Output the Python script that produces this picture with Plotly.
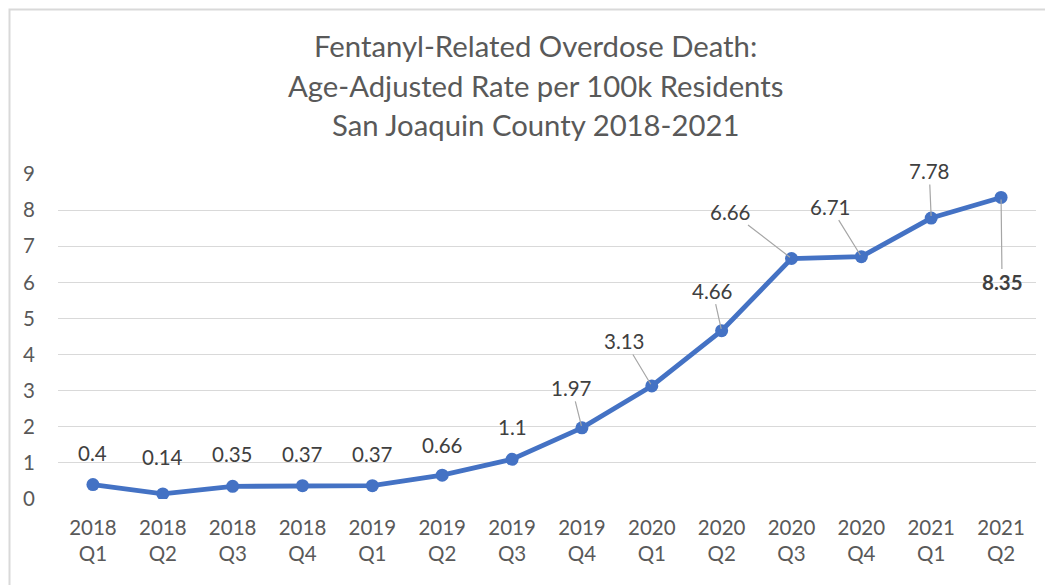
import plotly.graph_objects as go

categories = ["2018<br>Q1", "2018<br>Q2", "2018<br>Q3", "2018<br>Q4",
              "2019<br>Q1", "2019<br>Q2", "2019<br>Q3", "2019<br>Q4",
              "2020<br>Q1", "2020<br>Q2", "2020<br>Q3", "2020<br>Q4",
              "2021<br>Q1", "2021<br>Q2"]
values = [0.4, 0.14, 0.35, 0.37, 0.37, 0.66, 1.1, 1.97, 3.13, 4.66, 6.66, 6.71, 7.78, 8.35]
labels = ["0.4", "0.14", "0.35", "0.37", "0.37", "0.66", "1.1", "1.97", "3.13", "4.66",
          "6.66", "6.71", "7.78", "<b>8.35</b>"]
title_lines = ["Fentanyl-Related Overdose Death:",
               "Age-Adjusted Rate per 100k Residents",
               "San Joaquin County 2018-2021"]

# label offsets in pixels (ax, ay) and whether a leader line is shown
label_offsets = [(0, -32), (0, -37), (0, -32), (0, -32), (0, -32), (0, -30), (0, -32),
                 (-10, -40), (-27, -45), (-9, -40), (-61, -47), (-31, -50), (-2, -47), (1, 85)]
leader = [False] * 7 + [True] * 7

FONT = "Lato, 'Open Sans', sans-serif"
x = list(range(len(categories)))

# page body has an 8px margin: compensate so the plot area lands at 58..1036 x 174..499
OFF = 8
W, H = 1053 - OFF, 585 - OFF
ML, MR, MT, MB = 58 - OFF, 17, 174 - OFF, 86
plot_top, plot_bottom = 174, 499
plot_left, plot_right = 58, 1036

fig = go.Figure()
fig.add_trace(go.Scatter(
    x=x, y=values, mode="lines+markers",
    line=dict(color="#4472C4", width=4.8),
    marker=dict(color="#4472C4", size=13),
    hoverinfo="skip", showlegend=False,
))

annotations = []
for i, (v, lab, (ax, ay), ld) in enumerate(zip(values, labels, label_offsets, leader)):
    annotations.append(dict(
        x=i, y=v, xref="x", yref="y", text=lab,
        showarrow=True, arrowhead=0, arrowwidth=1.2,
        arrowcolor="#A6A6A6" if ld else "rgba(0,0,0,0)",
        ax=ax, ay=ay, standoff=2,
        font=dict(family=FONT, size=20.5, color="#404040"),
    ))

title_y = [45, 85, 124]
for t, py in zip(title_lines, title_y):
    annotations.append(dict(
        x=(535 - plot_left) / (plot_right - plot_left), xref="paper",
        y=(plot_bottom - py) / (plot_bottom - plot_top), yref="paper",
        text=t, showarrow=False,
        font=dict(family=FONT, size=29.3, color="#595959"),
        xanchor="center", yanchor="middle",
    ))

fig.update_layout(
    width=W, height=H,
    margin=dict(l=ML, r=MR, t=MT, b=MB),
    paper_bgcolor="white", plot_bgcolor="white",
    font=dict(family=FONT, color="#595959"),
    xaxis=dict(
        tickmode="array", tickvals=x, ticktext=categories,
        range=[-0.5, len(categories) - 0.5],
        showgrid=False, zeroline=False, showline=False,
        ticks="", tickfont=dict(size=20.5, color="#595959"), ticklabelstandoff=14,
    ),
    yaxis=dict(
        range=[0, 9], dtick=1, showgrid=True, gridcolor="#D9D9D9", gridwidth=1.3,
        zeroline=False, showline=False, ticks="",
        tickfont=dict(size=20.5, color="#595959"), ticklabelstandoff=22,
    ),
    annotations=annotations,
    shapes=[dict(type="rect", xref="paper", yref="paper",
                 x0=(9.5 - plot_left) / (plot_right - plot_left), x1=1.2,
                 y0=-0.6, y1=(plot_bottom - 9.5) / (plot_bottom - plot_top),
                 line=dict(color="#D9D9D9", width=2))],
)

fig.write_html("out.html")
